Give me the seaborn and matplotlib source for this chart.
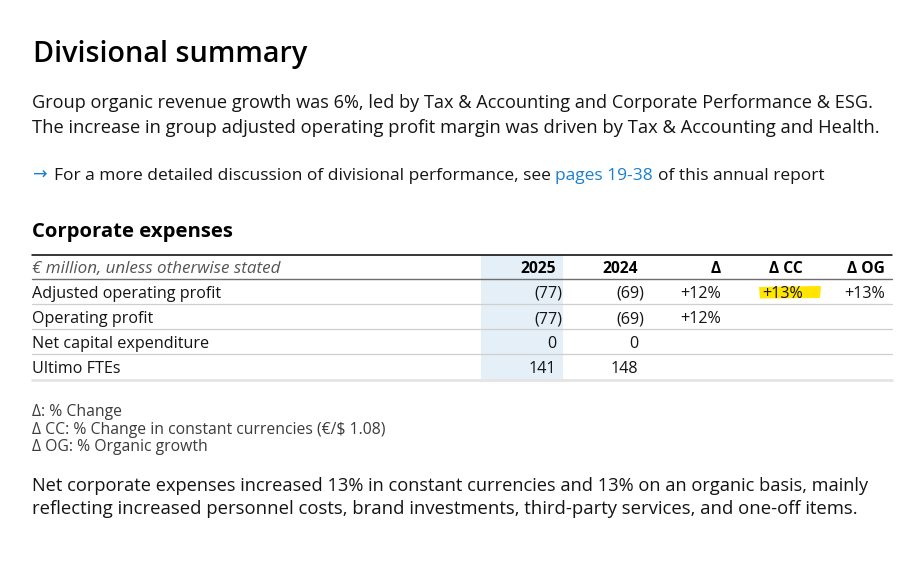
import matplotlib
matplotlib.use("Agg")
import matplotlib.pyplot as plt
import seaborn as sns
from matplotlib.patches import Rectangle

# ---------------- data ----------------
title = "Divisional summary"
intro_lines = [
    "Group organic revenue growth was 6%, led by Tax & Accounting and Corporate Performance & ESG.",
    "The increase in group adjusted operating profit margin was driven by Tax & Accounting and Health.",
]
link_before = "For a more detailed discussion of divisional performance, see"
link_text = "pages 19-38"
link_after = "of this annual report"
table_title = "Corporate expenses"
unit_label = "€ million, unless otherwise stated"
col_headers = ["2025", "2024", "Δ", "Δ CC", "Δ OG"]
row_labels = ["Adjusted operating profit", "Operating profit",
              "Net capital expenditure", "Ultimo FTEs"]
values_2025 = [-77, -77, 0, 141]
values_2024 = [-69, -69, 0, 148]
delta = ["+12%", "+12%", "", ""]
delta_cc = ["+13%", "", "", ""]
delta_og = ["+13%", "", "", ""]
footnotes = [
    "Δ: % Change",
    "Δ CC: % Change in constant currencies (€/$ 1.08)",
    "Δ OG: % Organic growth",
]
outro_lines = [
    "Net corporate expenses increased 13% in constant currencies and 13% on an organic basis, mainly",
    "reflecting increased personnel costs, brand investments, third-party services, and one-off items.",
]

# ---------------- style ----------------
sns.set_theme(style="white")
FAM = ["Open Sans", "DejaVu Sans"]
plt.rcParams["font.family"] = FAM
INK = "#141414"
BLUE = "#1a80cf"

W, H = 920, 583
fig = plt.figure(figsize=(W / 100, H / 100), dpi=100)
ax = fig.add_axes([0, 0, 1, 1])
ax.set_xlim(0, W)
ax.set_ylim(H, 0)
ax.axis("off")
fig.patch.set_facecolor("white")
renderer = fig.canvas.get_renderer()


def width_of(s, size, **kw):
    t = ax.text(0, 0, s, fontsize=size, **kw)
    w = t.get_window_extent(renderer).width
    t.remove()
    return w


def fit(s, target, size=12.0, **kw):
    for _ in range(4):
        size = size * target / width_of(s, size, **kw)
    return size


# title
fs_title = fit(title, 274, size=22, fontweight="semibold")
ax.text(33, 62, title, fontsize=fs_title, fontweight="semibold", color="#000000",
        va="baseline", ha="left")

# intro paragraph (target widths)
intro_w = [842, 848]
for i, (line, tw) in enumerate(zip(intro_lines, intro_w)):
    ax.text(32, 108 + 25 * i, line, fontsize=fit(line, tw, size=13), color=INK,
            va="baseline")

# arrow + link line
full_link = link_before + " " + link_text + " " + link_after
fs_link = fit(full_link, 767, size=13)
ax.text(33, 180, "→", fontsize=fs_link, color=BLUE, va="baseline",
        family=["DejaVu Sans"])
space = width_of("a a", fs_link) - width_of("aa", fs_link)
x = 54
for seg, col in [(link_before, INK), (link_text, BLUE), (link_after, INK)]:
    ax.text(x, 180, seg, fontsize=fs_link, color=col, va="baseline")
    x += width_of(seg, fs_link) + space

# table heading
fs_head = fit(table_title, 201, size=14, fontweight="bold")
ax.text(32, 237, table_title, fontsize=fs_head, fontweight="bold", color="#000000",
        va="baseline")

# table geometry
x0, x1 = 32, 892
col_right = [556, 638, 721, 803, 885]
row_base = [298, 323, 348, 373]
header_base = 273

fs_label = fit(row_labels[0], 189, size=12)
fs_num = fs_label
fs_hdr = fs_label * 0.97
fs_unit = fit(unit_label, 248, size=11, style="italic")

# highlighted 2025 column
ax.add_patch(Rectangle((481, 255), 82, 125, facecolor="#e4eff7", edgecolor="none", zorder=0))
# yellow marker highlight
ax.fill([759, 821, 820, 760], [287, 286, 298, 298.5], color="#ffe500", zorder=1, lw=0)

# rules
ax.plot([x0, x1], [254.5, 254.5], color="#000000", lw=1.1, zorder=2)
ax.plot([x0, x1], [279, 279], color="#6e6e6e", lw=1.0, zorder=2)
for y in [304, 329, 354]:
    ax.plot([x0, x1], [y, y], color="#cfcfcf", lw=0.9, zorder=2)
ax.plot([x0, x1], [380, 380], color="#e4e4e4", lw=2.0, zorder=2)

# header
ax.text(32, header_base, unit_label, fontsize=fs_unit, style="italic", color="#555555",
        va="baseline")
for xr, h in zip(col_right, col_headers):
    ax.text(xr, header_base, h, fontsize=fs_hdr, fontweight="bold", color="#000000",
            ha="right", va="baseline", zorder=3)


def fmt(v):
    return f"({abs(v)})" if v < 0 else f"{v}"


columns = [[fmt(v) for v in values_2025], [fmt(v) for v in values_2024],
           delta, delta_cc, delta_og]
for r, (lab, yb) in enumerate(zip(row_labels, row_base)):
    ax.text(32, yb, lab, fontsize=fs_label, color=INK, va="baseline", zorder=3)
    for c, xr in enumerate(col_right):
        s = columns[c][r]
        if not s:
            continue
        xx = xr + 6 if s.endswith(")") else xr
        ax.text(xx, yb, s, fontsize=fs_num, color=INK, ha="right", va="baseline", zorder=3)

# footnotes
note_w = [90, 362, 173]
fs_note = sum(fit(l, w, size=11) for l, w in zip(footnotes, note_w)) / 3
for i, line in enumerate(footnotes):
    ax.text(32, 416 + 17.5 * i, line, fontsize=fs_note, color="#3c3c3c", va="baseline")

# closing paragraph
outro_w = [839, 825]
for i, (line, tw) in enumerate(zip(outro_lines, outro_w)):
    ax.text(32, 491 + 23 * i, line, fontsize=fit(line, tw, size=13), color=INK,
            va="baseline")

fig.savefig("out.png", dpi=100, facecolor="white")
